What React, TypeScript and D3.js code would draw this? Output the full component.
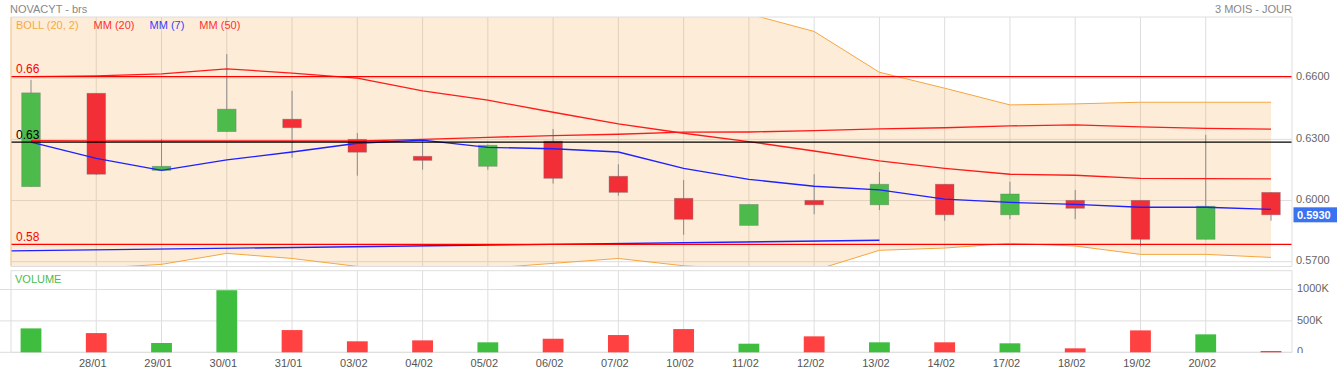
import React, { useEffect, useRef } from "react";
import * as d3 from "d3";

// daily candles, 27/01 -> 21/02
const dates = [
  "27/01", "28/01", "29/01", "30/01", "31/01", "03/02", "04/02", "05/02", "06/02", "07/02",
  "10/02", "11/02", "12/02", "13/02", "14/02", "17/02", "18/02", "19/02", "20/02", "21/02",
];
const opens = [
  0.6068, 0.6526, 0.6148, 0.6338, 0.6399, 0.63, 0.6217, 0.6168, 0.6291, 0.6119,
  0.6011, 0.5878, 0.6001, 0.5979, 0.608, 0.593, 0.6001, 0.6001, 0.581, 0.604,
];
const highs = [
  0.6592, 0.6526, 0.6302, 0.6718, 0.6538, 0.6331, 0.6296, 0.6275, 0.6351, 0.6178,
  0.6101, 0.5981, 0.6129, 0.614, 0.608, 0.6092, 0.6052, 0.6001, 0.6322, 0.604,
];
const lows = [
  0.6068, 0.6125, 0.6148, 0.6338, 0.621, 0.6122, 0.6151, 0.6151, 0.6083, 0.6024,
  0.5832, 0.5878, 0.5933, 0.5953, 0.5901, 0.5909, 0.5909, 0.5775, 0.581, 0.5901,
];
const closes = [
  0.6528, 0.6129, 0.6168, 0.6448, 0.6357, 0.6237, 0.6197, 0.6271, 0.6109, 0.604,
  0.5908, 0.5981, 0.5979, 0.608, 0.593, 0.6032, 0.5962, 0.581, 0.5972, 0.593,
];
const volumes = [
  381000, 306000, 148000, 989000, 354000, 175000, 190000, 159000, 216000, 275000,
  370000, 137000, 254000, 159000, 159000, 143000, 63000, 349000, 286000, 21000,
];

// indicators
const mm7 = [
  0.6286, 0.6207, 0.6148, 0.6199, 0.6238, 0.6281, 0.6296, 0.6261, 0.6254, 0.6238,
  0.6158, 0.6104, 0.607, 0.6052, 0.6007, 0.5991, 0.5981, 0.5967, 0.5967, 0.5957,
];
const mm20 = [
  0.6608, 0.6611, 0.6621, 0.6646, 0.6625, 0.66, 0.6538, 0.6492, 0.6433, 0.6376,
  0.633, 0.6289, 0.6243, 0.6194, 0.6158, 0.6129, 0.6124, 0.6109, 0.6107, 0.6106,
];
const mm50 = [
  0.6294, 0.6293, 0.6292, 0.6292, 0.6292, 0.6292, 0.63, 0.631, 0.6318, 0.6325,
  0.6335, 0.6336, 0.6343, 0.6351, 0.6357, 0.6366, 0.6371, 0.6361, 0.6354, 0.635,
];
const bollUpper = [
  0.7561, 0.7554, 0.7555, 0.7551, 0.7534, 0.7523, 0.7414, 0.7316, 0.7174, 0.7036,
  0.698, 0.6915, 0.6829, 0.6629, 0.6551, 0.6469, 0.6474, 0.6482, 0.6482, 0.6482,
];
const bollLower = [
  0.5655, 0.5668, 0.5687, 0.5741, 0.5716, 0.5677, 0.5662, 0.5668, 0.5692, 0.5716,
  0.568, 0.5663, 0.5657, 0.5756, 0.5767, 0.579, 0.5777, 0.5736, 0.5736, 0.5721,
];

// drawn levels and trend line
const levels = [0.6608, 0.6286, 0.5785];
const levelLabels = ["0.66", "0.63", "0.58"];
const trendIdx = [-0.31, 13];
const trendVals = [0.5753, 0.5805];

const priceTicks = [0.57, 0.6, 0.63, 0.66];
const volumeTicks = [0, 500000, 1000000];
const lastPrice = 0.593;
const legendLabels = ["BOLL (20, 2)", "MM (20)", "MM (7)", "MM (50)"];

const App = () => {
  const ref = useRef<SVGSVGElement>(null);

  useEffect(() => {
    const W = 1337;
    const H = 373;
    const left = 11;
    const right = 1292;
    const mainTop = 17;
    const mainBottom = 266;
    const volTop = 270.7;
    const volBottom = 352.3;

    const svg = d3.select(ref.current);
    svg.selectAll("*").remove();
    svg.attr("width", W).attr("height", H);

    const x = d3.scaleLinear().domain([0, dates.length - 1]).range([31, 1271]);
    const y = d3.scaleLinear().domain([0.5679, 0.69]).range([mainBottom, mainTop]);
    const yv = d3.scaleLinear().domain([0, 1300000]).range([volBottom, volTop]);

    const defs = svg.append("defs");
    defs.append("clipPath").attr("id", "clip-main")
      .append("rect").attr("x", left).attr("y", mainTop)
      .attr("width", right - left).attr("height", mainBottom - mainTop);
    defs.append("clipPath").attr("id", "clip-vol-axis")
      .append("rect").attr("x", right).attr("y", volTop)
      .attr("width", W - right).attr("height", volBottom + 0.8 - volTop);

    svg.append("rect").attr("width", W).attr("height", H).attr("fill", "#fff");

    // title row
    svg.append("text").attr("x", 10).attr("y", 13).text("NOVACYT - brs")
      .attr("font-size", 11).attr("fill", "#888");
    svg.append("text").attr("x", right).attr("y", 13).text("3 MOIS - JOUR")
      .attr("text-anchor", "end").attr("font-size", 11).attr("fill", "#888");

    const gridIdx = d3.range(1, dates.length - 1);
    const gridColor = "#dedede";

    // ---------- main panel
    const main = svg.append("g").attr("clip-path", "url(#clip-main)");

    main.selectAll("line.hgrid").data(priceTicks).enter().append("line")
      .attr("x1", left).attr("x2", right)
      .attr("y1", (d) => y(d)).attr("y2", (d) => y(d))
      .attr("stroke", gridColor);
    main.selectAll("line.vgrid").data(gridIdx).enter().append("line")
      .attr("x1", (d) => x(d)).attr("x2", (d) => x(d))
      .attr("y1", mainTop).attr("y2", mainBottom)
      .attr("stroke", gridColor);

    // bollinger band, extended to the left edge
    const bandIdx = [x.invert(left), ...d3.range(dates.length)];
    const bandAt = (arr: number[], i: number) => arr[Math.max(0, Math.round(i))];
    const area = d3.area<number>()
      .x((i) => x(i))
      .y0((i) => y(bandAt(bollLower, i)))
      .y1((i) => y(bandAt(bollUpper, i)));
    main.append("path").datum(bandIdx).attr("d", area)
      .attr("fill", "rgba(247,163,61,0.2)");
    const bandLine = (arr: number[]) =>
      d3.line<number>().x((i) => x(i)).y((i) => y(bandAt(arr, i)));
    [bollUpper, bollLower].forEach((arr) => {
      main.append("path").datum(bandIdx).attr("d", bandLine(arr))
        .attr("fill", "none").attr("stroke", "#f6a640").attr("stroke-width", 1);
    });

    // candles
    const bodyW = 18.6;
    const up = (i: number) => closes[i] >= opens[i];
    const candles = main.selectAll("g.candle").data(d3.range(dates.length)).enter().append("g");
    candles.append("line")
      .attr("x1", (i) => x(i)).attr("x2", (i) => x(i))
      .attr("y1", (i) => y(highs[i])).attr("y2", (i) => y(lows[i]))
      .attr("stroke", "#8c8c8c");
    candles.append("rect")
      .attr("x", (i) => x(i) - bodyW / 2)
      .attr("y", (i) => y(Math.max(opens[i], closes[i])))
      .attr("width", bodyW)
      .attr("height", (i) => Math.max(1, Math.abs(y(opens[i]) - y(closes[i]))))
      .attr("fill", (i) => (up(i) ? "#4cbb4c" : "#f22e36"))
      .attr("stroke", "rgba(110,110,110,0.45)").attr("stroke-width", 0.8);

    // moving averages
    const maLine = d3.line<number>().x((d, i) => x(i)).y((d) => y(d));
    main.append("path").datum(mm50).attr("d", maLine)
      .attr("fill", "none").attr("stroke", "#ff1a1a").attr("stroke-width", 1.3);
    main.append("path").datum(mm20).attr("d", maLine)
      .attr("fill", "none").attr("stroke", "#ff1a1a").attr("stroke-width", 1.3);
    main.append("path").datum(mm7).attr("d", maLine)
      .attr("fill", "none").attr("stroke", "#1f1fff").attr("stroke-width", 1.3);

    // trend line
    main.append("line")
      .attr("x1", x(trendIdx[0])).attr("y1", y(trendVals[0]))
      .attr("x2", x(trendIdx[1])).attr("y2", y(trendVals[1]))
      .attr("stroke", "#1f1fff").attr("stroke-width", 1.4);

    // horizontal levels
    levels.forEach((v, i) => {
      const col = i === 1 ? "#000" : "#ff0000";
      main.append("line").attr("x1", left).attr("x2", right)
        .attr("y1", y(v)).attr("y2", y(v))
        .attr("stroke", col).attr("stroke-width", 1.3);
      main.append("text").attr("x", 16).attr("y", y(v) - 3.5)
        .text(levelLabels[i]).attr("font-size", 12).attr("fill", col);
    });

    // legend
    const legendColors = ["#f7a845", "#ff3030", "#3b3bff", "#ff3030"];
    let lx = 16;
    legendLabels.forEach((lab, i) => {
      const t = main.append("text").attr("x", lx).attr("y", 29.3).text(lab)
        .attr("font-size", 11).attr("fill", legendColors[i]);
      const node = t.node() as SVGTextElement;
      lx += node.getComputedTextLength() + 15;
    });

    // main borders
    svg.append("line").attr("x1", left).attr("x2", right)
      .attr("y1", mainTop).attr("y2", mainTop).attr("stroke", gridColor);
    svg.append("line").attr("x1", right).attr("x2", right)
      .attr("y1", mainTop).attr("y2", mainBottom).attr("stroke", gridColor);
    svg.append("line").attr("x1", left).attr("x2", right)
      .attr("y1", mainBottom + 0.5).attr("y2", mainBottom + 0.5).attr("stroke", gridColor);
    svg.append("line").attr("x1", left).attr("x2", left)
      .attr("y1", mainTop).attr("y2", mainBottom).attr("stroke", "#f1c88f").attr("stroke-width", 1.2);

    // price axis
    const yAxis = d3.axisRight(y).tickValues(priceTicks).tickSize(0).tickPadding(4)
      .tickFormat((d) => d3.format(".4f")(d as number));
    const gy = svg.append("g").attr("transform", `translate(${right},0)`).call(yAxis);
    gy.select(".domain").remove();
    gy.selectAll("text").attr("dy", "0.15em").attr("font-size", 11)
      .attr("fill", "#666").attr("font-family", "inherit");

    // last price tag
    const py = y(lastPrice);
    svg.append("rect").attr("x", right + 1.5).attr("y", py - 7.5)
      .attr("width", W - right - 1.5).attr("height", 15).attr("fill", "#3a72f0");
    svg.append("text").attr("x", right + 5).attr("y", py + 4)
      .text(d3.format(".4f")(lastPrice)).attr("font-size", 11)
      .attr("font-weight", "bold").attr("fill", "#fff");

    // ---------- volume panel
    const vol = svg.append("g");
    vol.selectAll("line.vh").data(volumeTicks).enter().append("line")
      .attr("x1", 0).attr("x2", right)
      .attr("y1", (d) => yv(d)).attr("y2", (d) => yv(d))
      .attr("stroke", gridColor);
    vol.selectAll("line.vv").data(gridIdx).enter().append("line")
      .attr("x1", (d) => x(d)).attr("x2", (d) => x(d))
      .attr("y1", volTop).attr("y2", volBottom)
      .attr("stroke", gridColor);
    vol.append("rect").attr("x", left).attr("y", volTop)
      .attr("width", right - left).attr("height", volBottom - volTop)
      .attr("fill", "none").attr("stroke", gridColor);

    const barW = 20.8;
    vol.selectAll("rect.bar").data(volumes).enter().append("rect")
      .attr("x", (d, i) => x(i) - barW / 2)
      .attr("y", (d) => yv(d))
      .attr("width", barW)
      .attr("height", (d) => volBottom - yv(d))
      .attr("fill", (d, i) => (up(i) ? "#3fbd3f" : "#ff4141"));

    vol.append("text").attr("x", 15).attr("y", 282.7).text("VOLUME")
      .attr("font-size", 11).attr("fill", "#4cbb4c");

    const vAxis = d3.axisRight(yv).tickValues(volumeTicks).tickSize(0).tickPadding(5)
      .tickFormat((d) => ((d as number) === 0 ? "0" : `${(d as number) / 1000}K`));
    const gv = svg.append("g").attr("clip-path", "url(#clip-vol-axis)")
      .append("g").attr("transform", `translate(${right},0)`).call(vAxis);
    gv.select(".domain").remove();
    gv.selectAll("text").attr("dy", "0.2em").attr("font-size", 11)
      .attr("fill", "#666").attr("font-family", "inherit");

    // date axis
    const xAxis = d3.axisBottom(x).tickValues(gridIdx).tickSize(0)
      .tickFormat((i) => dates[i as number]);
    const gx = svg.append("g").attr("transform", `translate(0,${volBottom})`).call(xAxis);
    gx.select(".domain").remove();
    gx.selectAll("text").attr("dy", null).attr("y", 15).attr("x", -4)
      .attr("font-size", 11).attr("fill", "#555").attr("font-family", "inherit");
  }, []);

  return (
    <svg
      ref={ref}
      width={1337}
      height={373}
      style={{
        position: "absolute",
        left: 0,
        top: 0,
        fontFamily: "'Liberation Sans', Arial, sans-serif",
      }}
    />
  );
};

export default App;
